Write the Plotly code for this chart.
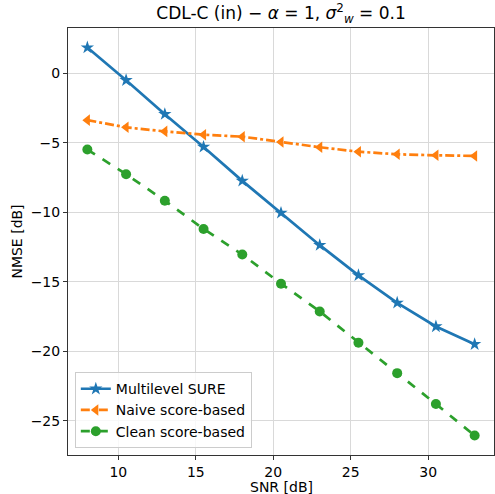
import plotly.graph_objects as go

snr = [8, 10.5, 13, 15.5, 18, 20.5, 23, 25.5, 28, 30.5, 33]
multilevel_sure = [1.85, -0.5, -2.94, -5.3, -7.74, -10.05, -12.37, -14.54, -16.52, -18.22, -19.5]
naive_score = [-3.37, -3.89, -4.18, -4.42, -4.56, -4.94, -5.32, -5.64, -5.83, -5.9, -5.95]
clean_score = [-5.49, -7.26, -9.17, -11.2, -13.04, -15.14, -17.14, -19.39, -21.58, -23.8, -26.07]
x_ticks = [10, 15, 20, 25, 30]
y_ticks = [0, -5, -10, -15, -20, -25]

font = "DejaVu Sans"
fig = go.Figure()
fig.add_trace(go.Scatter(x=snr, y=multilevel_sure, name="Multilevel SURE", mode="lines+markers",
                         line=dict(color="#1f77b4", width=2.7),
                         marker=dict(symbol="star", size=10, color="#1f77b4")))
fig.add_trace(go.Scatter(x=snr, y=naive_score, name="Naive score-based", mode="lines+markers",
                         line=dict(color="#ff7f0e", width=2.7, dash="dashdot"),
                         marker=dict(symbol="triangle-left", size=10, color="#ff7f0e")))
fig.add_trace(go.Scatter(x=snr, y=clean_score, name="Clean score-based", mode="lines+markers",
                         line=dict(color="#2ca02c", width=2.7, dash="dash"),
                         marker=dict(symbol="circle", size=10, color="#2ca02c")))

axis_common = dict(showline=True, linecolor="#333333", linewidth=1, mirror=True,
                   ticks="outside", ticklen=4, tickcolor="#333333",
                   showgrid=True, gridcolor="#d9d9d9", gridwidth=1, zeroline=False,
                   tickfont=dict(family=font, size=14, color="black"))
fig.update_layout(
    width=495, height=494,
    margin=dict(l=68, r=1, t=28, b=39),
    paper_bgcolor="white", plot_bgcolor="white",
    font=dict(family=font, color="black"),
    title=dict(text="CDL-C (in) − <i>α</i> = 1, <i>σ</i><sup>2</sup><sub><i>w</i></sub> = 0.1",
               x=0.5, xref="paper", xanchor="center", y=0.985, yanchor="top",
               font=dict(family=font, size=17, color="black")),
    xaxis=dict(range=[6.75, 34.25], tickvals=x_ticks, **axis_common),
    yaxis=dict(range=[-27.47, 3.26], tickvals=y_ticks,
               title=dict(text="NMSE [dB]", font=dict(family=font, size=14), standoff=4),
               **axis_common),
    legend=dict(x=0.016, y=0.016, xanchor="left", yanchor="bottom",
                bgcolor="rgba(255,255,255,0.8)", bordercolor="#cccccc", borderwidth=1,
                font=dict(family=font, size=14), itemwidth=30, tracegroupgap=0),
    showlegend=True,
)
fig.add_annotation(text="SNR [dB]", xref="paper", yref="paper", x=0.5, y=0,
                   xanchor="center", yanchor="top", yshift=-22, showarrow=False,
                   font=dict(family=font, size=14, color="black"))
fig.write_html("out.html")
